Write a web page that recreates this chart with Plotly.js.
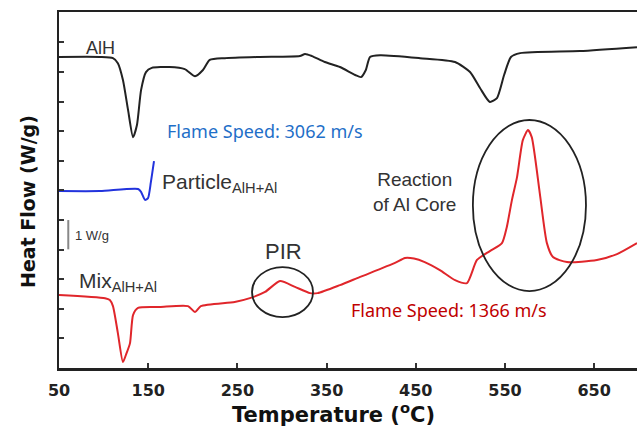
<!DOCTYPE html>
<html>
<head>
<meta charset="utf-8">
<script src="https://cdn.plot.ly/plotly-3.0.1.min.js"></script>
<style>html,body{margin:0;padding:0;background:#fff;}#chart{width:637px;height:430px;}</style>
</head>
<body>
<div id="chart"></div>
<script>
// AlH (black)
const alhT = [50,96,110.5,116,121.7,127.4,133,137.4,142,147.5,154,174,191,202.5,211.4,219,236,275,320,325.8,333.6,348,365,382,388.6,394,398.7,410,454.7,494,510.8,522,533,541,549,556.7,567,634,698];
const alhY = [10.51,10.51,10.47,10.30,9.73,8.72,7.80,8.21,9.39,10.0,10.14,10.17,10.10,9.86,10.07,10.41,10.47,10.51,10.54,10.61,10.54,10.34,10.17,9.90,9.83,10.07,10.51,10.57,10.47,10.34,10.0,9.46,8.99,9.12,9.90,10.51,10.64,10.71,10.84];
// Particle AlH+Al (blue)
const partT = [50,96,138.6,142,146.4,149.8,153,156.5];
const partY = [5.98,5.98,6.05,5.95,5.68,5.74,6.28,6.99];
// Mix AlH+Al (red)
const mixT = [50,101.6,107,110.5,116,121.7,125,129.6,133,138.6,163,194.6,202.5,209,247,264,281,297.8,314.6,331.4,340,365,387,426.7,437.9,448,460,477,494,507.4,518.6,533,546.6,552,557.8,563.5,570,575.8,580,589,597,603.8,619.5,653,675.6,698];
const mixY = [2.47,2.36,2.30,2.09,1.18,0.20,0.44,0.84,1.79,2.03,2.06,2.09,1.89,2.09,2.23,2.36,2.57,2.94,2.74,2.53,2.53,2.80,3.07,3.55,3.72,3.70,3.58,3.31,2.97,2.87,3.65,3.95,4.22,4.76,5.68,6.45,7.70,8.04,7.80,5.91,4.22,3.75,3.58,3.65,3.85,4.22];
const xTicks = [50,150,250,350,450,550,650];
const xTickLabels = ['50','150','250','350','450','550','650'];
const yTicks = [1,2,3,4,5,6,7,8,9,10,11];

const lab = {family:'Liberation Sans, Arial, sans-serif', color:'#333'};
const boldFont = 'DejaVu Sans, Liberation Sans, sans-serif';
// plot-area pixel frame used to place the axis-title annotations
const L = 59, R = 637, T = 12, B = 368;
const traces = [
  {x: alhT, y: alhY, mode:'lines', line:{color:'#222', width:2, shape:'spline', smoothing:0.6}, hoverinfo:'skip'},
  {x: partT, y: partY, mode:'lines', line:{color:'#2233dd', width:2, shape:'spline', smoothing:0.6}, hoverinfo:'skip'},
  {x: mixT, y: mixY, mode:'lines', line:{color:'#e0262b', width:2, shape:'spline', smoothing:0.6}, hoverinfo:'skip'}
];
const layout = {
  width:637, height:430,
  margin:{l:L, r:637-R, t:T, b:430-B},
  paper_bgcolor:'#fff', plot_bgcolor:'#fff',
  showlegend:false,
  xaxis:{range:[50,698], tickvals:xTicks, ticktext:xTickLabels, ticks:'inside', ticklen:5, tickwidth:2, tickcolor:'#333',
    showline:true, linewidth:2.5, linecolor:'#222', mirror:true, showgrid:false, zeroline:false, ticklabelstandoff:6,
    tickfont:{family:boldFont, size:16, color:'#222', weight:700}},
  yaxis:{range:[0,12.03], tickvals:yTicks, showticklabels:false, ticks:'inside', ticklen:5, tickwidth:2, tickcolor:'#333',
    showline:true, linewidth:2.5, linecolor:'#222', showgrid:false, zeroline:false},
  shapes:[
    {type:'circle', xref:'x', yref:'y', x0:266.4, x1:334.8, y0:1.72, y1:3.41, line:{color:'#222', width:1.8}},
    {type:'circle', xref:'x', yref:'y', x0:514, x1:640.8, y0:2.60, y1:8.38, line:{color:'#222', width:1.8}},
    {type:'line', xref:'x', yref:'y', x0:60.4, x1:60.4, y0:4.01, y1:5.0, line:{color:'#888', width:2}}
  ],
  annotations:[
    {xref:'paper', yref:'paper', x:(333-L)/(R-L), y:(B-413)/(B-T), xanchor:'center', yanchor:'middle',
     text:'Temperature (<sup>o</sup>C)', showarrow:false, font:{family:boldFont, size:21, color:'#111', weight:700}},
    {xref:'paper', yref:'paper', x:(28-L)/(R-L), y:(B-202)/(B-T), xanchor:'center', yanchor:'middle', textangle:-90,
     text:'Heat Flow (W/g)', showarrow:false, font:{family:boldFont, size:19, color:'#111', weight:700}},
    {x:97, y:10.82, xref:'x', yref:'y', text:'AlH', showarrow:false, font:Object.assign({size:18}, lab)},
    {x:168.8, y:8.0, xref:'x', yref:'y', xanchor:'left', text:'Flame Speed: 3062 m/s', showarrow:false, font:{family:'Noto Sans, sans-serif', size:18, color:'#1f6fc8'}},
    {x:163, y:6.25, xref:'x', yref:'y', xanchor:'left', text:'Particle<sub>AlH+Al</sub>', showarrow:false, font:Object.assign({size:21}, lab)},
    {x:65.7, y:4.49, xref:'x', yref:'y', xanchor:'left', text:'1 W/g', showarrow:false, font:Object.assign({size:13}, lab)},
    {x:70, y:2.92, xref:'x', yref:'y', xanchor:'left', text:'Mix<sub>AlH+Al</sub>', showarrow:false, font:Object.assign({size:21}, lab)},
    {x:302, y:3.95, xref:'x', yref:'y', text:'PIR', showarrow:false, font:Object.assign({size:22}, lab)},
    {x:449, y:5.95, xref:'x', yref:'y', text:'Reaction<br>of Al Core', showarrow:false, font:Object.assign({size:19}, lab)},
    {x:375, y:1.96, xref:'x', yref:'y', xanchor:'left', text:'Flame Speed: 1366 m/s', showarrow:false, font:{family:'Noto Sans, sans-serif', size:18, color:'#c00000'}}
  ]
};
Plotly.newPlot('chart', traces, layout, {displayModeBar:false, staticPlot:true});
</script>
</body>
</html>
